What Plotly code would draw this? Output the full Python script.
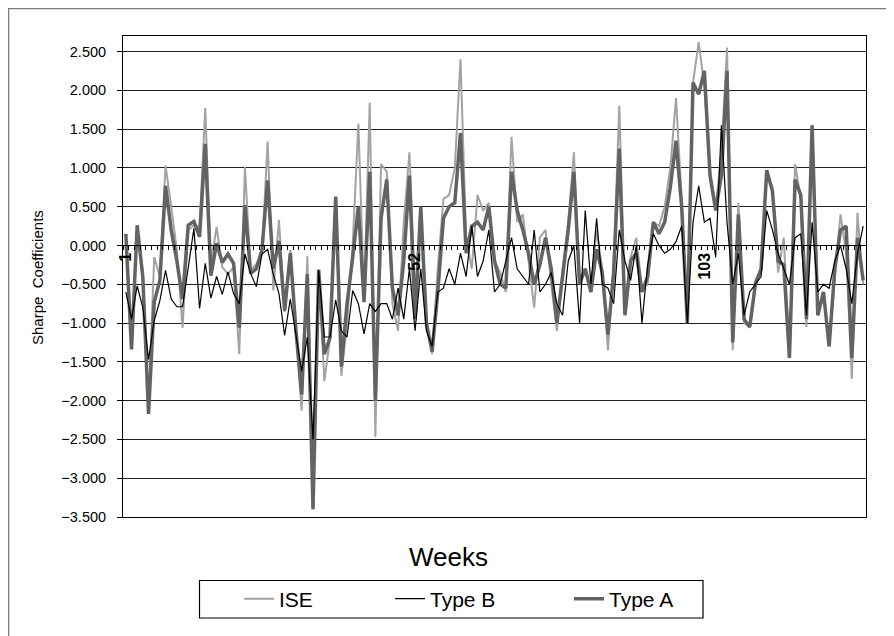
import plotly.graph_objects as go

weeks = list(range(1, 132))

ise = [0.10, -1.30, 0.25, -0.35, -2.10, -0.15, -0.40, 1.03, 0.50, -0.06,
       -1.06, 0.20, 0.26, 0.24, 1.77, -0.24, 0.24, -0.28, -0.37, -0.28,
       -1.40, 1.01, -0.32, -0.24, -0.10, 1.34, -0.58, 0.33, -0.86, -0.06,
       -1.10, -2.13, -0.14, -3.40, -0.34, -1.75, -1.20, 0.58, -1.68, -1.00,
       0.02, 1.57, -0.67, 1.84, -2.47, 1.05, 0.95, -0.75, -1.10, 0.30,
       1.20, -0.60, 0.30, -1.00, -1.40, -0.30, 0.60, 0.65, 1.00, 2.40,
       0.10, -0.30, 0.65, 0.45, 0.55, -0.20, -0.35, -0.60, 1.40, 0.30,
       0.40, -0.20, -0.80, 0.10, 0.20, -0.50, -1.10, -0.30, 0.30, 1.20,
       -0.50, -0.30, -0.60, 0.20, -0.30, -1.35, -0.25, 1.80, -0.80, -0.15,
       0.10, -0.55, -0.50, 0.30, 0.25, 0.50, 1.00, 1.90, 0.60, -1.00,
       2.10, 2.62, 2.05, 0.95, 0.50, 1.20, 2.55, -1.35, 0.55, -1.00,
       -1.05, -0.45, -0.30, 0.95, 0.75, -0.35, 0.10, -1.40, 1.05, 0.60,
       -1.05, 1.55, -0.90, -0.60, -1.30, -0.40, 0.40, -0.10, -1.72, 0.42,
       -0.50]

type_b = [-0.60, -0.95, -0.52, -0.80, -1.47, -0.97, -0.71, -0.32, -0.69, -0.79,
          -0.79, -0.28, 0.22, -0.81, -0.23, -0.68, -0.40, -0.63, -0.34, -0.62,
          -0.75, -0.11, -0.36, -0.53, -0.11, -0.05, -0.37, -0.62, -1.16, -0.69,
          -1.18, -1.62, -1.18, -2.50, -0.32, -1.18, -1.18, -0.70, -1.10, -1.18,
          -0.58, -0.75, -1.14, -0.75, -0.85, -0.75, -0.75, -0.95, -0.55, -0.95,
          -0.30, -1.10, -0.30, -1.10, -1.30, -0.60, -0.55, -0.30, -0.50, -0.10,
          -0.40, 0.25, -0.40, -0.20, 0.20, -0.60, -0.50, -0.20, 0.10, -0.30,
          -0.40, -0.50, 0.20, -0.60, -0.50, -0.35, -0.75, -0.90, -0.20, 0.00,
          -1.00, 0.45, -0.50, 0.35, -0.50, -0.55, -0.75, 0.20, -0.20, -0.45,
          0.00, -1.00, -0.25, 0.15, 0.00, -0.10, -0.05, 0.05, 0.25, -1.00,
          0.30, 0.77, 0.30, 0.35, -0.15, 1.55, 0.30, -0.50, -0.10, -0.90,
          -0.60, -0.50, -0.40, 0.45, 0.20, -0.10, -0.30, -0.50, 0.10, 0.15,
          -0.90, 0.30, -0.60, -0.50, -0.55, -0.20, 0.00, -0.30, -0.75, -0.10,
          0.25]

type_a = [0.15, -1.34, 0.26, -0.41, -2.17, -0.73, -0.45, 0.77, 0.20, -0.20,
          -0.69, 0.26, 0.31, 0.11, 1.31, -0.39, 0.03, -0.22, -0.11, -0.23,
          -1.06, 0.52, -0.36, -0.30, -0.06, 0.84, -0.30, 0.06, -0.84, -0.10,
          -1.10, -1.92, -0.37, -3.40, -0.31, -1.40, -1.19, 0.63, -1.56, -0.75,
          -0.15, 0.50, -0.73, 0.95, -2.00, 0.35, 0.85, -0.55, -0.90, -0.20,
          0.90, -0.95, 0.50, -1.00, -1.37, -0.60, 0.35, 0.50, 0.55, 1.45,
          -0.10, 0.25, 0.30, 0.20, 0.50, -0.20, -0.50, -0.55, 0.95, 0.45,
          0.20, -0.10, -0.50, -0.25, 0.10, -0.30, -1.00, -0.40, 0.20, 0.95,
          -0.50, -0.30, -0.60, -0.05, -0.35, -1.15, -0.35, 1.25, -0.90, -0.20,
          -0.10, -0.60, -0.40, 0.30, 0.15, 0.30, 0.75, 1.35, 0.50, -1.00,
          2.10, 1.95, 2.25, 0.90, 0.45, 0.90, 2.25, -1.25, 0.40, -0.95,
          -1.05, -0.50, -0.30, 0.97, 0.70, -0.20, -0.25, -1.45, 0.85, 0.65,
          -0.95, 1.55, -0.90, -0.60, -1.30, -0.30, 0.20, 0.25, -1.45, 0.10,
          -0.45]

label_weeks = [1, 52, 103]
label_text = ["1", "52", "103"]
y_ticks = [-3.5, -3.0, -2.5, -2.0, -1.5, -1.0, -0.5, 0.0, 0.5, 1.0, 1.5, 2.0, 2.5]

FONT = "Liberation Sans, Arial, sans-serif"

fig = go.Figure()
fig.add_trace(go.Scatter(x=weeks, y=ise, mode="lines", name="ISE",
                         line=dict(color="#a3a3a3", width=2), legend="legend"))
fig.add_trace(go.Scatter(x=weeks, y=type_a, mode="lines", name="Type A",
                         line=dict(color="#636363", width=3.5), legend="legend3"))
fig.add_trace(go.Scatter(x=weeks, y=type_b, mode="lines", name="Type B",
                         line=dict(color="#000000", width=1.2), legend="legend2"))

# the page body adds an 8px offset; screen coordinates below are converted
OFF = 8
W, H = 894, 636
L = 123 - OFF
T = 36 - OFF
R = W - (866 - OFF)
B = H - (517 - OFF)
pw, ph = W - L - R, H - T - B
ymin, ymax = -3.5, 2.7


def px_x(p):
    return (p - OFF - L) / pw


def px_y(p):
    return (H - B - (p - OFF)) / ph


def legend_at(px):
    return dict(orientation="h", x=px_x(px), xanchor="left",
                y=px_y(599), yanchor="middle",
                borderwidth=0, bgcolor="rgba(0,0,0,0)",
                font=dict(size=21, family=FONT))


fig.update_layout(
    width=W, height=H,
    margin=dict(l=L, r=R, t=T, b=B, autoexpand=False),
    paper_bgcolor="white", plot_bgcolor="white",
    font=dict(family=FONT, size=12, color="black"),
    showlegend=True,
    legend=legend_at(239),
    legend2=legend_at(390),
    legend3=legend_at(569),
    xaxis=dict(range=[0.5, 131.5], showticklabels=False, ticks="",
               showgrid=False, zeroline=False, showline=True,
               linecolor="black", linewidth=1, mirror=True, automargin=False),
    xaxis2=dict(overlaying="x", range=[0.5, 131.5], anchor="free",
                position=(0 - ymin) / (ymax - ymin), side="bottom",
                showline=True, linecolor="black", linewidth=1,
                showgrid=False, zeroline=False, automargin=False,
                tickmode="array", tickvals=label_weeks, ticktext=label_text,
                tickangle=-90, ticks="",
                tickfont=dict(size=16, family=FONT, color="black", weight="bold"),
                minor=dict(tickmode="linear", tick0=0.5, dtick=1,
                           ticks="outside", ticklen=4, tickcolor="black")),
    yaxis=dict(range=[ymin, ymax], tickmode="array", tickvals=y_ticks,
               tickformat=".3f", ticks="outside", ticklen=5, tickcolor="black",
               ticklabelstandoff=8, automargin=False,
               showgrid=True, gridcolor="#202020", gridwidth=1,
               zeroline=False, showline=True, linecolor="black",
               linewidth=1, mirror=True,
               tickfont=dict(size=14.5, family=FONT, color="black")),
    annotations=[
        dict(text="Sharpe\u00a0 Coefficients", xref="paper", yref="paper",
             x=px_x(37), y=px_y(278), textangle=-90, showarrow=False,
             font=dict(size=15, family=FONT), xanchor="center", yanchor="middle"),
        dict(text="Weeks", xref="paper", yref="paper",
             x=px_x(448), y=px_y(557), showarrow=False,
             font=dict(size=26, family=FONT), xanchor="center", yanchor="middle"),
    ],
    shapes=[
        dict(type="rect", xref="paper", yref="paper",
             x0=px_x(8.5), x1=px_x(920), y0=px_y(660), y1=px_y(8.5),
             line=dict(color="#7a7a7a", width=1.5), layer="below"),
        dict(type="rect", xref="paper", yref="paper",
             x0=px_x(199.5), x1=px_x(703), y0=px_y(618), y1=px_y(580.5),
             line=dict(color="black", width=1.2), layer="below"),
    ],
)

# invisible helper trace that activates the axis crossing at zero
fig.add_trace(go.Scatter(x=[1], y=[0], xaxis="x2", yaxis="y", mode="markers",
                         marker=dict(opacity=0), showlegend=False, hoverinfo="skip"))

fig.write_html("out.html")
